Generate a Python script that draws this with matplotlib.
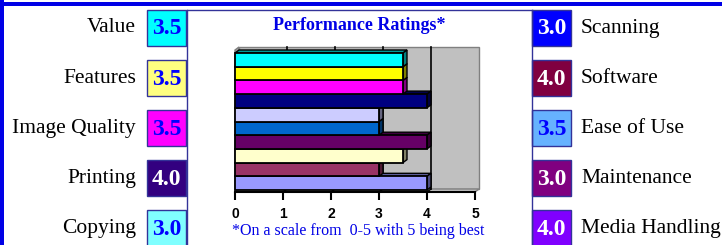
import numpy as np
import matplotlib
matplotlib.use("Agg")
import matplotlib.pyplot as plt
from matplotlib.patches import Polygon, Rectangle
from matplotlib.colors import to_rgb

W, H = 722, 245

# bars, top to bottom
bar_values = [3.5, 3.5, 3.5, 4.0, 3.0, 3.0, 4.0, 3.5, 3.0, 4.0]
bar_colors = ["#00FFFF", "#FFFF00", "#FF00FF", "#000080", "#CCCCFF",
              "#0066CC", "#660066", "#FFFFCC", "#993366", "#9999FF"]

# rating boxes
left_labels = ["Value", "Features", "Image Quality", "Printing", "Copying"]
left_scores = ["3.5", "3.5", "3.5", "4.0", "3.0"]
left_fill = ["#00FFFF", "#FFFF80", "#FF00FF", "#330080", "#80FFFF"]
left_text = ["#0000FF", "#0000FF", "#0000FF", "white", "#0000FF"]

right_labels = ["Scanning", "Software", "Ease of Use", "Maintenance", "Media Handling"]
right_scores = ["3.0", "4.0", "3.5", "3.0", "4.0"]
right_fill = ["#0000FF", "#800040", "#66B2FF", "#800080", "#8000FF"]
right_text = ["white", "white", "#0000FF", "white", "white"]

x_ticks = [0, 1, 2, 3, 4, 5]

SERIF = "Liberation Serif"
SANS = "Liberation Sans"
FRAME = "#333399"
BLUE = "#0000E6"


def shade(c, f):
    r, g, b = to_rgb(c)
    return (r * f, g * f, b * f)


fig = plt.figure(figsize=(W / 100, H / 100), dpi=100)
fig.patch.set_facecolor("white")

# overlay in pixel coordinates for the frame and the rating boxes
lay = fig.add_axes([0, 0, 1, 1], zorder=0)
lay.set_xlim(0, W)
lay.set_ylim(H, 0)
lay.axis("off")
lay.patch.set_alpha(0)

lay.add_patch(Rectangle((0, 2.5), W, 4, color=BLUE, lw=0))
lay.add_patch(Rectangle((0, 0), 3.5, H, color=BLUE, lw=0))
lay.plot([187, 532], [10, 10], color=FRAME, lw=1)
lay.plot([187, 187], [10, H], color=FRAME, lw=1)
lay.plot([532, 532], [10, H], color=FRAME, lw=1)

for i in range(5):
    top = 10 + 50 * i
    cy = top + 18
    lay.add_patch(Rectangle((147, top), 39, 36, facecolor=left_fill[i],
                            edgecolor=FRAME, lw=1))
    lay.text(166.5, cy + 1, left_scores[i], ha="center", va="center",
             family=SERIF, weight="bold", size=17, color=left_text[i])
    lay.text(136, cy, left_labels[i], ha="right", va="center",
             family=SERIF, size=15.5, color="black")

    lay.add_patch(Rectangle((532, top), 39, 36, facecolor=right_fill[i],
                            edgecolor=FRAME, lw=1))
    lay.text(551.5, cy + 1, right_scores[i], ha="center", va="center",
             family=SERIF, weight="bold", size=17, color=right_text[i])
    lay.text(581, cy, right_labels[i], ha="left", va="center",
             family=SERIF, size=15.5, color="black")

lay.text(359, 25, "Performance Ratings*", ha="center", va="center",
         family=SERIF, weight="bold", size=13, color=BLUE)
lay.text(358, 231, "*On a scale from  0-5 with 5 being best", ha="center",
         va="center", family=SERIF, size=11.5, color=BLUE)

# bar chart axes: 0..5 -> 235..475 px, bars 53..190 px, floor 192 px
ppu_x = 48.0
ppu_y = 13.7
x0 = -5 / ppu_x
x1 = 5 + 10 / ppu_x
y_top = -0.5 - (53 - 44) / ppu_y
y_floor = 9.5 + (192 - 190) / ppu_y
ax = fig.add_axes([230 / W, 1 - 192 / H, 255 / W, 148 / H], zorder=1)
ax.patch.set_alpha(0)
ax.set_xlim(x0, x1)
ax.set_ylim(y_floor, y_top)

dx = 4 / ppu_x
dy = 3 / ppu_y
wall_top = -0.5 - 6 / ppu_y
wall_bot = y_floor - dy

wall = "#C0C0C0"
ax.add_patch(Polygon([(dx, wall_top), (5 + dx, wall_top), (5 + dx, wall_bot), (dx, wall_bot)],
                     closed=True, facecolor=wall, edgecolor="#808080", lw=1, zorder=1))
ax.add_patch(Polygon([(0, y_floor), (5, y_floor), (5 + dx, wall_bot), (dx, wall_bot)],
                     closed=True, facecolor=wall, edgecolor="#808080", lw=1, zorder=1))
ax.add_patch(Polygon([(0, wall_top + dy), (dx, wall_top), (dx, wall_bot), (0, y_floor)],
                     closed=True, facecolor="#A0A0A0", edgecolor="#808080", lw=1, zorder=1))
for k in x_ticks[1:-1]:
    ax.plot([k + dx, k + dx], [wall_top, wall_bot], color="black", lw=1.2, zorder=2)
    ax.plot([k, k + dx], [y_floor, wall_bot], color="black", lw=1, zorder=2)

y_idx = np.arange(len(bar_values))
bars = ax.barh(y_idx, bar_values, height=1.0, color=bar_colors,
               edgecolor="black", linewidth=1.3)
for i, (b, v, c) in enumerate(zip(bars, bar_values, bar_colors)):
    z = 40 - 3 * i
    b.set_zorder(z)
    top = i - 0.5
    bot = i + 0.5
    ax.add_patch(Polygon([(0, top), (v, top), (v + dx, top - dy), (dx, top - dy)],
                         closed=True, facecolor=shade(c, 0.6), edgecolor="black",
                         lw=1.0, zorder=z - 1))
    ax.add_patch(Polygon([(v, top), (v + dx, top - dy), (v + dx, bot - dy), (v, bot)],
                         closed=True, facecolor=shade(c, 0.5), edgecolor="black",
                         lw=1.0, zorder=z - 1))

for s in ["top", "left", "right"]:
    ax.spines[s].set_visible(False)
ax.spines["bottom"].set_bounds(0, 5)
ax.spines["bottom"].set_linewidth(1.5)
ax.spines["bottom"].set_zorder(50)
ax.set_yticks([])
ax.set_xticks(x_ticks)
ax.set_xticklabels([str(t) for t in x_ticks], family=SANS, weight="bold", size=10)
ax.tick_params(axis="x", direction="out", length=6, width=1.5, pad=5, colors="black")

fig.savefig("out.png", dpi=100)
